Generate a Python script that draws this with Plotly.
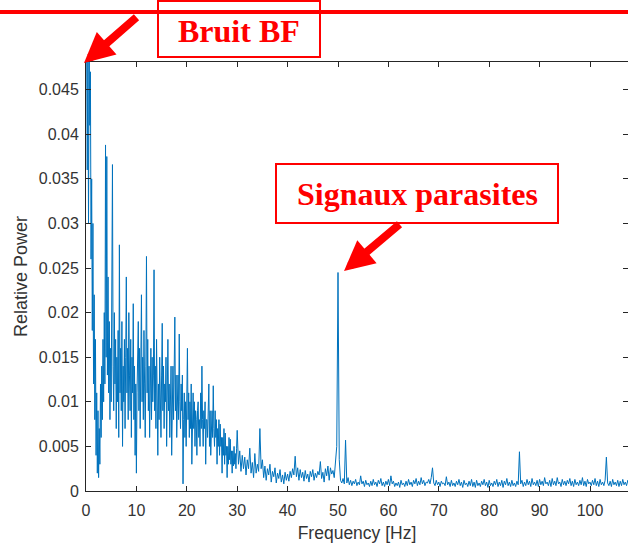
import numpy as np
import plotly.graph_objects as go

# Relative power, 0-30 Hz sampled every 0.125 Hz (8 values = 1 Hz per row)
power_low = [
    0.048, 0.050, 0.036, 0.049, 0.030, 0.050, 0.041, 0.047,   # 0
    0.026, 0.035, 0.018, 0.030, 0.012, 0.022, 0.008, 0.017,   # 1
    0.004, 0.011, 0.002, 0.009, 0.0015, 0.007, 0.003, 0.012,  # 2
    0.006, 0.014, 0.008, 0.017, 0.010, 0.020, 0.012, 0.0388,  # 3
    0.015, 0.0375, 0.013, 0.024, 0.011, 0.019, 0.008, 0.016,  # 4
    0.010, 0.022, 0.0366, 0.014, 0.009, 0.020, 0.012, 0.017,  # 5
    0.007, 0.015, 0.010, 0.018, 0.006, 0.0276, 0.011, 0.016,  # 6
    0.009, 0.019, 0.005, 0.014, 0.010, 0.017, 0.007, 0.015,   # 7
    0.024, 0.011, 0.016, 0.008, 0.020, 0.013, 0.009, 0.017,   # 8
    0.006, 0.015, 0.011, 0.021, 0.008, 0.014, 0.004, 0.012,   # 9
    0.002, 0.011, 0.014, 0.019, 0.009, 0.016, 0.007, 0.013,   # 10
    0.022, 0.010, 0.015, 0.008, 0.018, 0.012, 0.006, 0.014,   # 11
    0.0263, 0.011, 0.017, 0.009, 0.014, 0.006, 0.012, 0.016,  # 12
    0.008, 0.015, 0.010, 0.013, 0.0248, 0.009, 0.014, 0.007,  # 13
    0.017, 0.010, 0.004, 0.012, 0.008, 0.015, 0.011, 0.006,   # 14
    0.013, 0.0188, 0.009, 0.014, 0.007, 0.012, 0.010, 0.015,  # 15
    0.005, 0.013, 0.017, 0.009, 0.012, 0.006, 0.011, 0.014,   # 16
    0.004, 0.010, 0.014, 0.008, 0.012, 0.0195, 0.009, 0.013,  # 17
    0.006, 0.011, 0.013, 0.008, 0.0176, 0.010, 0.007, 0.012,  # 18
    0.009, 0.013, 0.0008, 0.008, 0.011, 0.006, 0.010, 0.005,  # 19
    0.012, 0.016, 0.008, 0.011, 0.006, 0.010, 0.007, 0.012,   # 20
    0.003, 0.009, 0.011, 0.007, 0.010, 0.005, 0.009, 0.008,   # 21
    0.004, 0.009, 0.010, 0.006, 0.008, 0.005, 0.011, 0.007,   # 22
    0.014, 0.008, 0.005, 0.009, 0.007, 0.010, 0.003, 0.008,   # 23
    0.008, 0.006, 0.010, 0.012, 0.005, 0.009, 0.004, 0.008,   # 24
    0.009, 0.006, 0.0118, 0.007, 0.005, 0.009, 0.006, 0.008,  # 25
    0.003, 0.007, 0.005, 0.008, 0.004, 0.0075, 0.005, 0.006,  # 26
    0.002, 0.006, 0.004, 0.007, 0.003, 0.0065, 0.004, 0.005,  # 27
    0.0015, 0.005, 0.003, 0.006, 0.0035, 0.0058, 0.003, 0.0045,  # 28
    0.002, 0.0045, 0.0028, 0.005, 0.003, 0.0042, 0.0025, 0.0048,  # 29
]

# Relative power from 30 Hz on, sampled every 0.25 Hz (8 values = 2 Hz per row)
power_high = [
    0.0068, 0.003, 0.0045, 0.0022, 0.004, 0.0025, 0.0038, 0.0018,    # 30-32
    0.0035, 0.0025, 0.0048, 0.002, 0.0032, 0.0015, 0.0042, 0.002,    # 32-34
    0.003, 0.0022, 0.007, 0.0025, 0.0035, 0.0015, 0.0028, 0.0012,    # 34-36
    0.0025, 0.0018, 0.003, 0.001, 0.0022, 0.0016, 0.0026, 0.0009,    # 36-38
    0.002, 0.0014, 0.0024, 0.001, 0.0018, 0.0008, 0.0021, 0.0012,    # 38-40
    0.0019, 0.0011, 0.0022, 0.0015, 0.0025, 0.0018, 0.0039, 0.0016,  # 40-42
    0.0026, 0.0012, 0.0024, 0.0015, 0.0021, 0.0011, 0.0023, 0.0014,  # 42-44
    0.0019, 0.001, 0.0022, 0.0016, 0.0024, 0.0012, 0.002, 0.0015,    # 44-46
    0.0022, 0.0018, 0.0033, 0.0014, 0.0021, 0.001, 0.0025, 0.0017,   # 46-48
    0.0028, 0.0012, 0.0026, 0.0019, 0.0023, 0.0015, 0.0032, 0.005,   # 48-50
    0.0245, 0.0035, 0.0012, 0.0009, 0.0014, 0.0008, 0.0057, 0.0009,  # 50-52
    0.0015, 0.0007, 0.0012, 0.0006, 0.0011, 0.0008, 0.0013, 0.0006,  # 52-54
    0.001, 0.0007, 0.0017, 0.0008, 0.0011, 0.0005, 0.0012, 0.0007,   # 54-56
    0.0009, 0.0005, 0.0011, 0.0006, 0.0013, 0.0007, 0.001, 0.0005,   # 56-58
    0.0012, 0.0008, 0.0014, 0.0006, 0.001, 0.0005, 0.0011, 0.0007,   # 58-60
    0.0013, 0.0006, 0.0017, 0.0008, 0.0011, 0.0005, 0.0009, 0.0006,  # 60-62
    0.001, 0.0004, 0.0012, 0.0007, 0.0009, 0.0005, 0.0011, 0.0006,   # 62-64
    0.0013, 0.0007, 0.001, 0.0005, 0.0012, 0.0008, 0.0014, 0.0006,   # 64-66
    0.0011, 0.0007, 0.0015, 0.0008, 0.0012, 0.0006, 0.001, 0.0009,   # 66-68
    0.0013, 0.0008, 0.0015, 0.0026, 0.0009, 0.0006, 0.0012, 0.0007,  # 68-70
    0.001, 0.0005, 0.0011, 0.0008, 0.0009, 0.0006, 0.0016, 0.0007,   # 70-72
    0.001, 0.0005, 0.0012, 0.0006, 0.0009, 0.0005, 0.0011, 0.0007,   # 72-74
    0.0013, 0.0006, 0.001, 0.0004, 0.0012, 0.0007, 0.0009, 0.0005,   # 74-76
    0.0011, 0.0006, 0.0013, 0.0005, 0.001, 0.0004, 0.0012, 0.0006,   # 76-78
    0.0009, 0.0005, 0.0011, 0.0007, 0.0013, 0.0006, 0.001, 0.0004,   # 78-80
    0.0012, 0.0006, 0.0009, 0.0005, 0.0011, 0.0007, 0.0013, 0.0005,  # 80-82
    0.001, 0.0006, 0.0012, 0.0004, 0.0011, 0.0007, 0.0014, 0.0006,   # 82-84
    0.001, 0.0005, 0.0012, 0.0006, 0.0009, 0.0005, 0.0011, 0.0007,   # 84-86
    0.0044, 0.0008, 0.0012, 0.0005, 0.001, 0.0006, 0.0013, 0.0007,   # 86-88
    0.0011, 0.0005, 0.0014, 0.0007, 0.001, 0.0006, 0.0012, 0.0005,   # 88-90
    0.0013, 0.0007, 0.0011, 0.0006, 0.0015, 0.0008, 0.001, 0.0006,   # 90-92
    0.0012, 0.0005, 0.0014, 0.0007, 0.0011, 0.0006, 0.0015, 0.0008,  # 92-94
    0.001, 0.0005, 0.0013, 0.0007, 0.0011, 0.0006, 0.0012, 0.0008,   # 94-96
    0.0014, 0.0006, 0.0011, 0.0005, 0.0013, 0.0007, 0.001, 0.0006,   # 96-98
    0.0012, 0.0007, 0.0015, 0.0006, 0.0011, 0.0005, 0.0013, 0.0008,  # 98-100
    0.001, 0.0006, 0.0012, 0.0007, 0.0014, 0.0006, 0.0011, 0.0005,   # 100-102
    0.0013, 0.0007, 0.001, 0.0006, 0.0012, 0.0038, 0.0009, 0.0006,   # 102-104
    0.0011, 0.0005, 0.0013, 0.0007, 0.001, 0.0006, 0.0012, 0.0005,   # 104-106
    0.0011, 0.0006, 0.0013, 0.0007, 0.001, 0.0006, 0.0012, 0.0005,   # 106-108
]
step_low, step_high, f_split = 0.125, 0.25, 30.0
freqs = np.concatenate([np.arange(len(power_low)) * step_low,
                        f_split + np.arange(len(power_high)) * step_high])
power = np.concatenate([power_low, power_high])

x_ticks = [0, 10, 20, 30, 40, 50, 60, 70, 80, 90, 100]
y_ticks = [0, 0.005, 0.01, 0.015, 0.02, 0.025, 0.03, 0.035, 0.04, 0.045]
y_tick_labels = ["0", "0.005", "0.01", "0.015", "0.02", "0.025", "0.03", "0.035", "0.04", "0.045"]

label_bf = "Bruit BF"
label_parasites = "Signaux parasites"

W, H = 628, 547
L, R, T, B = 86, 0, 62, 56
PW, PH = W - L - R, H - T - B


def px(xp):
    return (xp - L) / PW


def py(yp):
    return (H - B - yp) / PH


axis_color = "#262626"
text_color = "#333333"
red = "#FF0000"
sans = "Arial, Liberation Sans, sans-serif"

fig = go.Figure()
fig.add_trace(go.Scatter(x=freqs, y=power, mode="lines",
                         line=dict(color="#0072BD", width=1), hoverinfo="skip",
                         showlegend=False))

common_axis = dict(showgrid=False, zeroline=False, showline=True, linecolor=axis_color,
                   linewidth=1, mirror="ticks", ticks="inside", ticklen=5,
                   tickcolor=axis_color, tickfont=dict(family=sans, size=16, color=text_color))

fig.update_xaxes(range=[0, PW / 5.04], tickvals=x_ticks, ticklabelstandoff=5, **common_axis,
                 title=dict(text="Frequency [Hz]", font=dict(family=sans, size=17.5, color=text_color),
                            standoff=8))
fig.update_yaxes(range=[0, 0.0481], tickvals=y_ticks, ticktext=y_tick_labels,
                 ticklabelstandoff=3, **common_axis,
                 title=dict(text="Relative Power", font=dict(family=sans, size=18, color=text_color),
                            standoff=6))

shapes = [
    dict(type="line", xref="paper", yref="paper", x0=px(-5), x1=px(W + 5), y0=py(12), y1=py(12),
         line=dict(color=red, width=4)),
    dict(type="rect", xref="paper", yref="paper", x0=px(158), x1=px(320), y0=py(57), y1=py(1),
         line=dict(color=red, width=2)),
    dict(type="rect", xref="paper", yref="paper", x0=px(276), x1=px(558), y0=py(223), y1=py(164),
         line=dict(color=red, width=2)),
]

text_font = dict(family="Liberation Serif, Times New Roman, serif", size=32, color=red)
annotations = [
    dict(text="<b>" + label_bf + "</b>", xref="paper", yref="paper", x=px(239), y=py(31),
         xanchor="center", yanchor="middle", showarrow=False, font=text_font),
    dict(text="<b>" + label_parasites + "</b>", xref="paper", yref="paper", x=px(417), y=py(194),
         xanchor="center", yanchor="middle", showarrow=False, font=text_font),
    dict(text="", xref="paper", yref="paper", x=px(84), y=py(63), ax=54, ay=-47,
         showarrow=True, arrowhead=2, arrowsize=0.75, arrowwidth=8, arrowcolor=red),
    dict(text="", xref="paper", yref="paper", x=px(344), y=py(271), ax=57, ay=-48,
         showarrow=True, arrowhead=2, arrowsize=0.75, arrowwidth=8, arrowcolor=red),
]

fig.update_layout(width=W, height=H, margin=dict(l=L, r=R, t=T, b=B, pad=0),
                  paper_bgcolor="white", plot_bgcolor="white",
                  shapes=shapes, annotations=annotations)

fig.write_html("out.html", config={"displayModeBar": False},
               post_script="document.body.style.margin='0px';"
                           "document.body.style.overflow='hidden';")
